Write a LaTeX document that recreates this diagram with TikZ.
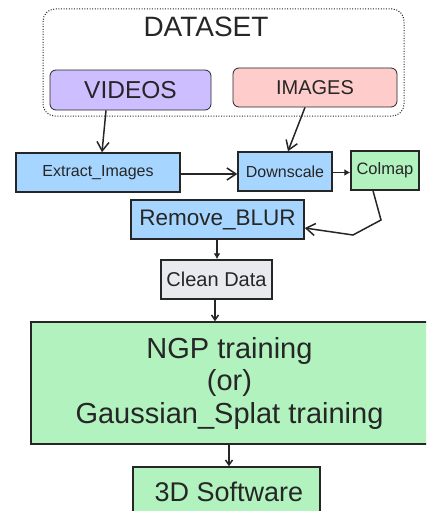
\documentclass[tikz,border=0pt]{standalone}
\usepackage{fontspec}
\setmainfont{Liberation Sans}
\usetikzlibrary{arrows.meta}
\definecolor{vidfill}{HTML}{CDBFFF}
\definecolor{imgfill}{HTML}{FFCCCC}
\definecolor{bluefill}{HTML}{A6D6FF}
\definecolor{greenfill}{HTML}{B1F2BE}
\definecolor{grayfill}{HTML}{E8EAED}
\definecolor{ink}{HTML}{262626}
\begin{document}
\begin{tikzpicture}[x=1pt,y=-1pt,
  box/.style={draw=ink,line width=1.5pt,text=ink,inner sep=0pt,align=center},
  bluebox/.style={box,fill=bluefill},
  arr/.style={draw=ink,line width=1.5pt,-{Straight Barb[length=9pt,width=12pt]}},
  sarr/.style={draw=ink,line width=1.5pt,-{Straight Barb[length=5pt,width=7pt]}},
  farr/.style={draw=ink,line width=1.5pt,-{Latex[length=6pt,width=7pt]}}]
\clip (0,0) rectangle (426,511);
%\draw[step=10,gray,very thin] (0,0) grid (426,511);
\draw[ink,line width=1pt,dash pattern=on 1pt off 1.6pt,rounded corners=12] (43,9) rectangle (404,116);
\node[text=ink,font=\fontsize{28}{32}\selectfont] (title) at (206,27) {DATASET};
\node[box,line width=0.8pt,fill=vidfill,rounded corners=6,minimum width=161,minimum height=40,font=\fontsize{24.5}{28}\selectfont] (vid) at (130.5,90) {VIDEOS};
\node[box,line width=0.8pt,fill=imgfill,rounded corners=6,minimum width=164,minimum height=39,font=\fontsize{20}{24}\selectfont] (img) at (315,87.5) {IMAGES};

%------------------------------------------------

\node[bluebox,minimum width=164,minimum height=39,font=\fontsize{16}{19}\selectfont] (ext) at (98,172.5) {Extract\_Images};
\node[bluebox,minimum width=94,minimum height=39,font=\fontsize{16}{19}\selectfont] (down) at (285,171.5) {Downscale};
\node[box,fill=greenfill,minimum width=68,minimum height=39,font=\fontsize{16.5}{19}\selectfont] (col) at (385,170.5) {Colmap};
\node[bluebox,minimum width=173,minimum height=39,font=\fontsize{22.5}{26}\selectfont] (rem) at (217.5,219.5) {Remove\_BLUR};
\node[box,fill=grayfill,minimum width=111,minimum height=39,font=\fontsize{20}{24}\selectfont] (clean) at (216.5,279.5) {Clean Data};
\node[box,fill=greenfill,minimum width=397,minimum height=122,font=\fontsize{29}{32.5}\selectfont] (ngp) at (229.5,383) {NGP training\\(or)\\Gaussian\_Splat training};
\node[box,fill=greenfill,minimum width=187,minimum height=50,font=\fontsize{27}{31}\selectfont] (sw) at (226.5,492) {\hspace*{5pt}3D Software};

%------------------------------------------------

\draw[arr] ([xshift=-24.5pt]vid.south) -- ([xshift=4pt]ext.north);
\draw[arr] ([xshift=-10pt]img.south) -- ([xshift=3pt]down.north);
\draw[arr] ([yshift=-1.5pt]ext.east) -- ([yshift=-2.5pt]down.west);
\draw[farr] ([yshift=-1pt]down.east) -- ([yshift=-2pt]col.west);
\draw[arr] ([xshift=-12pt]col.south) -- (381,220) -- (353,235) -- ([yshift=-8.5pt]rem.east);
\draw[farr] ([xshift=-0.5pt]rem.south) -- ([xshift=0.5pt]clean.north);
\draw[sarr] ([xshift=-1.5pt]clean.south) -- ([xshift=-14.5pt]ngp.north);
\draw[sarr] ([xshift=-0.5pt]ngp.south) -- ([xshift=2.5pt]sw.north);
\end{tikzpicture}
\end{document}
